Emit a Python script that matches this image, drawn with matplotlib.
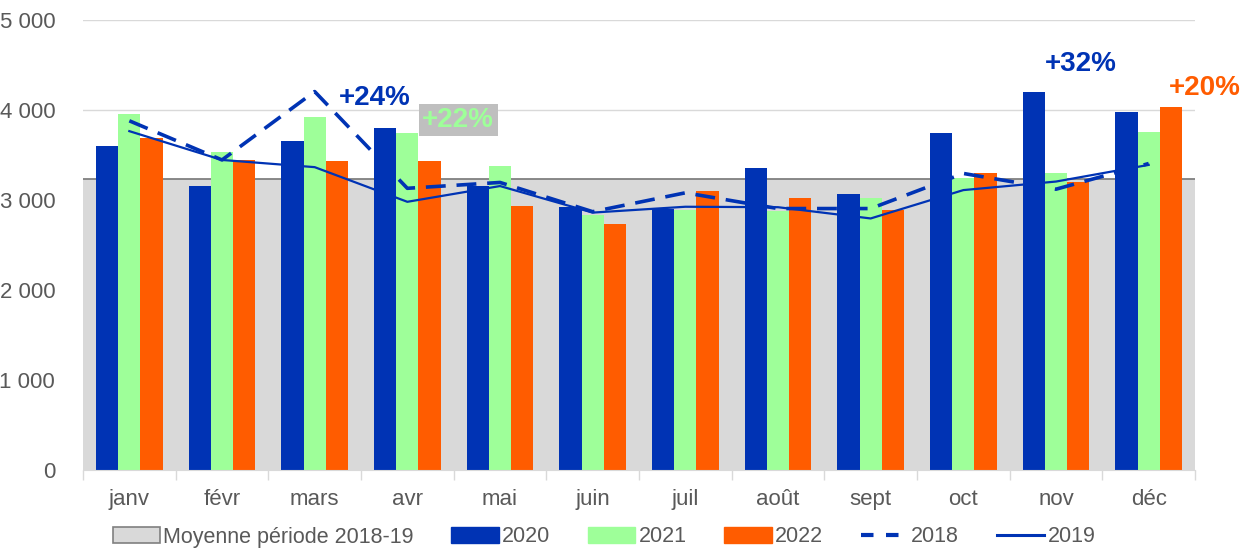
import matplotlib
matplotlib.use("Agg")
import matplotlib.pyplot as plt
from matplotlib.patches import Patch
from matplotlib.lines import Line2D
import numpy as np

plt.rcParams['font.family'] = ['Liberation Sans', 'DejaVu Sans']

months = ["janv", "févr", "mars", "avr", "mai", "juin", "juil", "août", "sept", "oct", "nov", "déc"]
moyenne_2018_19 = [3230] * 12
v2020 = [3600, 3150, 3650, 3800, 3150, 2925, 2900, 3350, 3065, 3740, 4195, 3975]
v2021 = [3960, 3530, 3925, 3740, 3380, 2835, 2890, 2880, 3020, 3240, 3305, 3760]
v2022 = [3685, 3445, 3435, 3435, 2935, 2735, 3095, 3020, 2890, 3295, 3205, 4035]
v2018 = [3880, 3445, 4205, 3130, 3195, 2870, 3080, 2905, 2905, 3295, 3120, 3405]
v2019 = [3765, 3445, 3365, 2980, 3155, 2860, 2925, 2920, 2795, 3110, 3205, 3390]
yticks = [0, 1000, 2000, 3000, 4000, 5000]
annotations = [("+24%", 2.65, 4133), ("+22%", 3.55, 3889), ("+32%", 10.27, 4511), ("+20%", 11.61, 4244)]

BLUE = "#0033B4"
GREEN = "#9EFF99"
ORANGE = "#FF5C00"
GRAYF = "#D9D9D9"
GRAYE = "#808080"
TXT = "#595959"

fig = plt.figure(figsize=(12.56, 5.51), dpi=100)
ax = fig.add_axes([83/1256, 1-470/551, (1195-83)/1256, 450/551])

x = np.arange(len(months))
ax.bar(x, moyenne_2018_19, width=1.0, color=GRAYF, edgecolor='none', zorder=1)
ax.hlines(moyenne_2018_19[0], -0.5, 11.5, color=GRAYE, lw=1.3, zorder=1.5)

w = 0.24
ax.bar(x - w, v2020, width=w, color=BLUE, zorder=2)
ax.bar(x, v2021, width=w, color=GREEN, zorder=2)
ax.bar(x + w, v2022, width=w, color=ORANGE, zorder=2)

ax.plot(x, v2018, color=BLUE, lw=2.6, dashes=(5.5, 3), zorder=3)
ax.plot(x, v2019, color=BLUE, lw=1.6, zorder=3)

ax.set_xlim(-0.5, 11.5)
ax.set_ylim(0, 5000)
ax.set_yticks(yticks)
ax.set_yticklabels([f"{v:,}".replace(",", " ") for v in yticks])
ax.yaxis.grid(True, color="#D9D9D9", lw=1.0, zorder=0)
ax.set_axisbelow(True)
ax.tick_params(axis='y', length=0, pad=20, labelsize=16, labelcolor=TXT)

ax.set_xticks(np.arange(-0.5, 12, 1.0))
ax.set_xticklabels([])
ax.tick_params(axis='x', which='major', length=7, color="#D9D9D9", width=1)
ax.set_xticks(x, minor=True)
ax.set_xticklabels(months, minor=True)
ax.tick_params(axis='x', which='minor', length=0, pad=14, labelsize=16, labelcolor=TXT)

for s in ['top', 'right', 'left']:
    ax.spines[s].set_visible(False)
ax.spines['bottom'].set_color("#D9D9D9")

txt_colors = [BLUE, GREEN, BLUE, ORANGE]
for (t, xx, yy), c in zip(annotations, txt_colors):
    kw = {}
    if t == "+22%":
        kw['bbox'] = dict(boxstyle='square,pad=0.12', fc="#BFBFBF", ec='none')
    ax.text(xx, yy, t, color=c, fontsize=20, fontweight='bold', ha='center', va='center',
            zorder=5, clip_on=False, **kw)

handles = [
    Patch(facecolor=GRAYF, edgecolor=GRAYE, lw=1.2),
    Patch(facecolor=BLUE, edgecolor=BLUE),
    Patch(facecolor=GREEN, edgecolor=GREEN),
    Patch(facecolor=ORANGE, edgecolor=ORANGE),
    Line2D([], [], color=BLUE, lw=3, dashes=(3, 3)),
    Line2D([], [], color=BLUE, lw=2.2),
]
labels = ["Moyenne période 2018-19", "2020", "2021", "2022", "2018", "2019"]
fig.legend(handles, labels, loc='center', bbox_to_anchor=(604/1256, 1-537/551), ncol=6,
           frameon=False, fontsize=15.5, handlelength=2.2, handleheight=0.7,
           handletextpad=0.15, columnspacing=1.75, labelcolor=TXT)

fig.savefig("out.png", dpi=100)
